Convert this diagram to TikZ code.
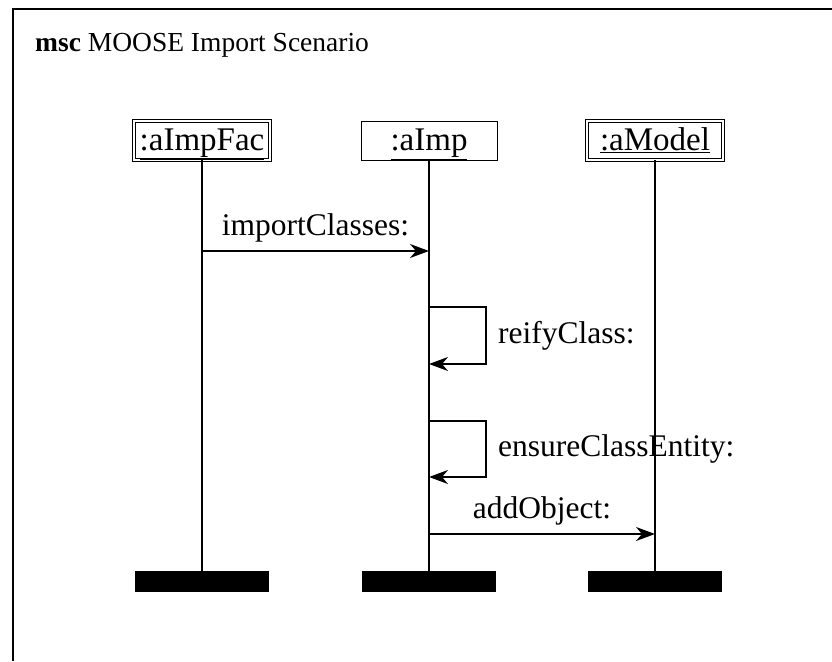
\documentclass[tikz,border=0pt]{standalone}
\usepackage{fontspec}
\setmainfont{Liberation Serif}
\usetikzlibrary{arrows.meta}
\begin{document}
\begin{tikzpicture}[x=1pt,y=-1pt,
  txt/.style={font=\fontsize{31.5}{38}\selectfont, inner sep=0pt},
  obj/.style={font=\fontsize{33}{40}\selectfont, inner sep=0pt, draw, line width=1pt,
    minimum width=136pt, minimum height=39pt, text height=26pt, text depth=6pt},
  dblobj/.style={obj, double, double distance=2pt, line width=0.9pt},
  endbar/.style={fill=black, draw=none, minimum width=134pt, minimum height=21pt, inner sep=0pt},
  life/.style={line width=1.4pt},
  msg/.style={line width=1.4pt, -{Stealth[length=19pt,width=14pt,inset=6pt]}},
  frame/.style={line width=2pt}]
\useasboundingbox (0,0) rectangle (832,661);

% diagram frame (runs off the page to the right and bottom)
\draw[frame] (13,661) -- (13,9) -- (832,9);
\node[txt, anchor=base west, font=\fontsize{27.5}{33}\selectfont] (title) at (35,52)
  {\textbf{msc} MOOSE Import Scenario};

% instance heads
\node[dblobj] (fac) at (202,140.5) {\underline{:aImpFac}};
\node[obj]    (imp) at (429,140.5) {\underline{:aImp}};
\node[dblobj] (mod) at (655,140.5) {\underline{:aModel}};

% instance ends
\node[endbar] (facend) at (202,581.5) {};
\node[endbar] (impend) at (429,581.5) {};
\node[endbar] (modend) at (655,581.5) {};

% lifelines
\draw[life] (fac.south) -- (facend.north);
\draw[life] (imp.south) -- (impend.north);
\draw[life] (mod.south) -- (modend.north);

% message anchor points on the lifelines
\coordinate (f1) at (202,251);
\coordinate (i1) at (429,251);
\coordinate (r1s) at (429,307);
\coordinate (r1e) at (429,364);
\coordinate (r2s) at (429,421);
\coordinate (r2e) at (429,477);
\coordinate (i3) at (429,534);
\coordinate (m3) at (655,534);

% messages
\draw[msg] (f1) -- (i1) node[txt, midway, above=8pt] (l1) {importClasses:};
\draw[msg] (r1s) -- ++(57,0) |- (r1e);
\node[txt, anchor=west] (l2) at (498,335.5) {reifyClass:};
\draw[msg] (r2s) -- ++(57,0) |- (r2e);
\node[txt, anchor=west] (l3) at (498,449) {ensureClassEntity:};
\draw[msg] (i3) -- (m3) node[txt, midway, above=8pt] (l4) {addObject:};
\end{tikzpicture}
\end{document}
